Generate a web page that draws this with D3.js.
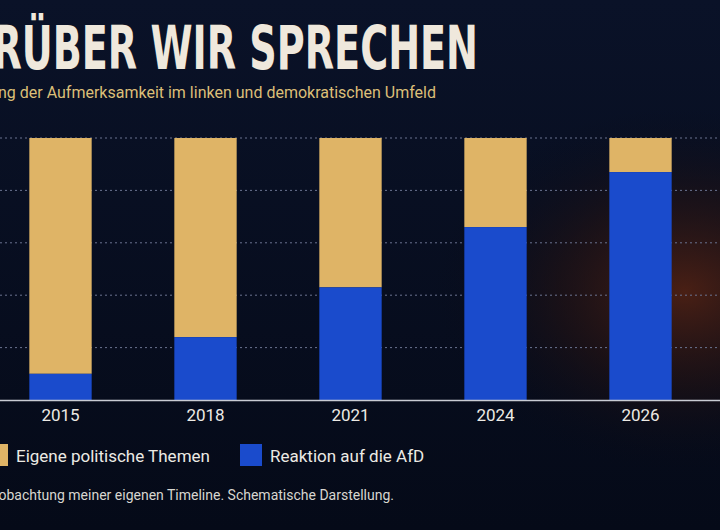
<!DOCTYPE html>
<html lang="de">
<head>
  <meta charset="UTF-8">
  <title>Worüber wir sprechen</title>
  <style>body{margin:0;background:#060c1c}</style>
</head>
<body>
  <svg width="720" height="530" class="svgs"></svg>
  <script src="https://cdn.jsdelivr.net/npm/d3@7/dist/d3.min.js"></script>
  <script>
    const years = ['2015', '2018', '2021', '2024', '2026']
    const afd = [10, 24, 43, 66, 87]           // Reaktion auf die AfD, %
    const own = afd.map(v => 100 - v)          // Eigene politische Themen, %
    const yTicks = [0, 20, 40, 60, 80, 100]

    const mainsvg = d3.select('.svgs')
    const width = 720, height = 530

    const defs = mainsvg.append('defs')
    const bg = defs.append('linearGradient').attr('id', 'bg').attr('x1', 0).attr('y1', 0).attr('x2', 0).attr('y2', 1)
    bg.append('stop').attr('offset', 0).attr('stop-color', '#0a1228')
    bg.append('stop').attr('offset', 1).attr('stop-color', '#050a18')
    const glow = defs.append('radialGradient').attr('id', 'glow').attr('cx', 0.95).attr('cy', 0.55).attr('r', 0.35)
    glow.append('stop').attr('offset', 0).attr('stop-color', '#5a2412').attr('stop-opacity', 0.8)
    glow.append('stop').attr('offset', 0.5).attr('stop-color', '#2a1410').attr('stop-opacity', 0.5)
    glow.append('stop').attr('offset', 1).attr('stop-color', '#050a18').attr('stop-opacity', 0)

    mainsvg.append('rect').attr('width', width).attr('height', height).attr('fill', 'url(#bg)')
    mainsvg.append('rect').attr('width', width).attr('height', height).attr('fill', 'url(#glow)')

    const xScale = d3.scaleBand().domain(years).range([-12, 713]).paddingInner(0.57).paddingOuter(0.285)
    const yScale = d3.scaleLinear().domain([0, 100]).range([400, 138])

    // dotted gridlines
    mainsvg.append('g').selectAll('line').data(yTicks.slice(1)).join('line')
      .attr('x1', 0).attr('x2', width)
      .attr('y1', d => yScale(d)).attr('y2', d => yScale(d))
      .attr('stroke', '#6a7390').attr('stroke-width', 1).attr('stroke-dasharray', '2,3')

    const g = mainsvg.append('g')
    years.forEach((y, i) => {
      g.append('rect')
        .attr('x', xScale(y)).attr('width', xScale.bandwidth())
        .attr('y', yScale(100)).attr('height', yScale(afd[i]) - yScale(100))
        .attr('fill', '#dfb466')
      g.append('rect')
        .attr('x', xScale(y)).attr('width', xScale.bandwidth())
        .attr('y', yScale(afd[i])).attr('height', yScale(0) - yScale(afd[i]))
        .attr('fill', '#1a4bcc')
    })

    const xAxis = d3.axisBottom(xScale).tickSize(0).tickPadding(9)
    const ax = mainsvg.append('g').attr('transform', `translate(0, ${yScale(0)})`).call(xAxis)
    ax.select('.domain').attr('d', `M0,0.5H${width}`).attr('stroke', '#c9ccd4').attr('stroke-width', 1.5)
    ax.selectAll('.tick text').attr('fill', '#eceae4').attr('font-size', 17)
      .attr('font-family', 'Roboto, sans-serif')

    // title, squeezed to a condensed look and cut at the left edge like the reference
    mainsvg.append('text').text('WORÜBER WIR SPRECHEN')
      .attr('x', -82).attr('y', 69)
      .attr('textLength', 560).attr('lengthAdjust', 'spacingAndGlyphs')
      .attr('font-family', '"DejaVu Sans", sans-serif').attr('font-weight', 'bold').attr('font-size', 60)
      .attr('fill', '#efe8dc')
    mainsvg.append('text').text('Verschiebung der Aufmerksamkeit im linken und demokratischen Umfeld')
      .attr('x', 436).attr('y', 98).attr('text-anchor', 'end')
      .attr('font-family', 'Roboto, sans-serif').attr('font-size', 16)
      .attr('fill', '#dcbf78')

    const legend = [
      {label: 'Eigene politische Themen', color: '#dfb466', x: -14},
      {label: 'Reaktion auf die AfD', color: '#1a4bcc', x: 240}
    ]
    legend.forEach(l => {
      mainsvg.append('rect').attr('x', l.x).attr('y', 444).attr('width', 22).attr('height', 22).attr('fill', l.color)
      mainsvg.append('text').text(l.label).attr('x', l.x + 30).attr('y', 462)
        .attr('font-family', 'Roboto, sans-serif').attr('font-size', 17).attr('fill', '#eceae4')
    })

    mainsvg.append('text').text('Quelle: Eigene Beobachtung meiner eigenen Timeline. Schematische Darstellung.')
      .attr('x', 394).attr('y', 500).attr('text-anchor', 'end')
      .attr('font-family', 'Roboto, sans-serif').attr('font-size', 14).attr('fill', '#d8d6d0')
  </script>
</body>
</html>
